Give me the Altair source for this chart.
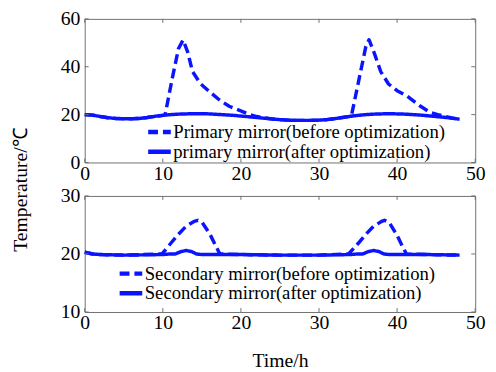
import altair as alt
import pandas as pd

# ---------------- data ----------------
# Primary mirror, after optimization (hourly)
p_after_t = list(range(0, 49))
p_after_v = [20.0, 19.8, 19.2, 18.7, 18.4, 18.3, 18.3, 18.4, 18.8, 19.3,
             19.7, 20.0, 20.2, 20.3, 20.4, 20.4, 20.3, 20.1, 19.9, 19.7,
             19.4, 19.1, 18.8, 18.5, 18.2, 17.9, 17.7, 17.6, 17.6, 17.6,
             17.7, 17.9, 18.3, 18.8, 19.3, 19.7, 20.0, 20.2, 20.3, 20.4,
             20.3, 20.2, 20.0, 19.8, 19.5, 19.2, 18.9, 18.5, 18.1]

# Primary mirror, before optimization
p_before_t = [10.3, 11.2, 12.0, 12.6, 13.2, 13.8, 14.8, 16.0, 17.3, 18.5, 19.9, 21.0, 22.0, 23.0, 24.0,
              34.2, 35.2, 36.0, 36.4, 37.1, 37.9, 38.9, 40.0, 41.2, 42.9, 44.2, 45.2, 46.2, 47.0, 48.0]
p_before_v = [20.0, 35.0, 47.5, 51.2, 46.0, 38.0, 33.0, 29.5, 26.0, 23.5, 21.7, 20.2, 19.2, 18.6, 18.2,
              20.3, 36.0, 48.5, 51.3, 45.5, 38.0, 32.8, 30.0, 27.9, 23.7, 21.0, 20.0, 19.2, 18.6, 18.1]

# Secondary mirror, after optimization
s_after_t = [0, 1, 2, 5, 10, 11, 11.6, 12.3, 13.0, 13.7, 14.3, 15, 20, 25, 30, 34,
             35, 35.6, 36.3, 37.0, 37.7, 38.3, 39, 44, 48]
s_after_v = [20.3, 20.0, 19.9, 19.8, 19.9, 20.0, 20.0, 20.4, 20.6, 20.4, 20.0, 19.9, 19.9, 19.8, 19.8, 19.9,
             20.0, 20.0, 20.4, 20.6, 20.4, 20.0, 19.9, 19.9, 19.8]

# Secondary mirror, before optimization
s_before_t = [0, 1, 2, 5, 9.9, 11, 12, 13, 14, 14.5, 15, 16, 17, 17.3, 20, 25, 30,
              33.8, 35, 36, 37, 38, 38.4, 39, 40, 40.8, 41.2, 44, 48]
s_before_v = [20.3, 20.0, 19.9, 19.8, 20.0, 21.8, 23.4, 24.8, 25.6, 25.8, 25.5, 23.5, 20.8, 20.0, 19.9, 19.8, 19.8,
              20.0, 21.8, 23.4, 24.8, 25.6, 25.8, 25.4, 23.2, 21.0, 20.0, 19.9, 19.8]

p_names = ["Primary mirror(before optimization)", "primary mirror(after optimization)"]
s_names = ["Secondary mirror(before optimization)", "Secondary mirror(after optimization)"]

x_ticks = [0, 10, 20, 30, 40, 50]
p_y_ticks = [0, 20, 40, 60]
s_y_ticks = [10, 20, 30]

# ---------------- tables ----------------
def merge_before(after_t, after_v, bt, bv, windows):
    rows = []
    for t, v in zip(after_t, after_v):
        if not any(a <= t <= b for a, b in windows):
            rows.append((t, v))
    rows += list(zip(bt, bv))
    rows.sort()
    return rows

p_before_rows = merge_before(p_after_t, p_after_v, p_before_t, p_before_v, [(10.3, 24.0), (34.2, 48.0)])
p_df = pd.DataFrame(
    [{"t": t, "v": v, "series": p_names[0], "o": i} for i, (t, v) in enumerate(p_before_rows)]
    + [{"t": t, "v": v, "series": p_names[1], "o": i} for i, (t, v) in enumerate(zip(p_after_t, p_after_v))]
)
s_df = pd.DataFrame(
    [{"t": t, "v": v, "series": s_names[0], "o": i} for i, (t, v) in enumerate(zip(s_before_t, s_before_v))]
    + [{"t": t, "v": v, "series": s_names[1], "o": i} for i, (t, v) in enumerate(zip(s_after_t, s_after_v))]
)

FONT = "Liberation Serif"
BLUE = "#0a14ff"
FRAME = "#707070"
W = 397


def panel(df, names, ydom, yticks, H, legx, legy, xtitle, ytitle):
    xs = alt.Scale(domain=[0, 50], nice=False)
    ys = alt.Scale(domain=ydom, nice=False)
    leg = alt.Legend(orient="none", legendX=legx, legendY=legy, title=None,
                     symbolType="stroke", symbolSize=529, symbolStrokeWidth=4.5,
                     labelFont=FONT, labelFontSize=19, labelColor="black",
                     labelLimit=500, rowPadding=0, clipHeight=20, labelOffset=0, padding=0)
    common = dict(grid=False, ticks=False, domain=False,
                  labelFont=FONT, labelFontSize=20, labelColor="black",
                  titleFont=FONT, titleFontSize=20, titleFontWeight="normal", titleColor="black")
    xaxis = alt.Axis(values=x_ticks, labelPadding=1, title=xtitle if xtitle else None,
                     titlePadding=18, labelFlush=False, **common)
    if ytitle:
        yaxis = alt.Axis(values=yticks, labelPadding=5,
                         title=ytitle, titleAngle=270,
                         titleX=-65, titleY=173, titleAlign="center", titleBaseline="middle", **common)
    else:
        yaxis = alt.Axis(values=yticks, labelPadding=5, title=None, **common)

    lines = alt.Chart(df).mark_line(strokeWidth=3.5, strokeCap="butt", strokeJoin="round").encode(
        x=alt.X("t:Q", scale=xs, axis=xaxis),
        y=alt.Y("v:Q", scale=ys, axis=yaxis),
        color=alt.Color("series:N", scale=alt.Scale(domain=names, range=[BLUE, BLUE]), legend=leg),
        strokeDash=alt.StrokeDash("series:N", scale=alt.Scale(domain=names, range=[[10, 5], [1, 0]]), legend=leg),
        order="o:Q",
    )
    xt = pd.DataFrame({"tx": x_ticks})
    yt = pd.DataFrame({"ty": yticks})
    tb = alt.Chart(xt).mark_rule(color=FRAME, strokeWidth=1).encode(
        x=alt.X("tx:Q", scale=xs, axis=xaxis), y=alt.value(H), y2=alt.value(H - 4))
    tt = alt.Chart(xt).mark_rule(color=FRAME, strokeWidth=1).encode(
        x=alt.X("tx:Q", scale=xs, axis=xaxis), y=alt.value(0), y2=alt.value(4))
    tl = alt.Chart(yt).mark_rule(color=FRAME, strokeWidth=1).encode(
        y=alt.Y("ty:Q", scale=ys, axis=yaxis), x=alt.value(0), x2=alt.value(4))
    tr = alt.Chart(yt).mark_rule(color=FRAME, strokeWidth=1).encode(
        y=alt.Y("ty:Q", scale=ys, axis=yaxis), x=alt.value(W), x2=alt.value(W - 4))
    return alt.layer(lines, tb, tt, tl, tr).properties(width=W, height=H)


top = panel(p_df, p_names, [0, 60], p_y_ticks, 146, 62, 105, None, "Temperature/℃")
bottom = panel(s_df, s_names, [10, 30], s_y_ticks, 118, 33, 69, "Time/h", None)

chart = alt.vconcat(top, bottom, spacing=34, bounds="flush").resolve_scale(
    color="independent", strokeDash="independent", x="independent", y="independent"
).resolve_legend(color="independent", strokeDash="independent").properties(
    padding={"left": 2, "top": -3, "right": 2, "bottom": 2}, background="white"
).configure_axis(
    labelFont=FONT, labelFontSize=20, labelColor="black",
    titleFont=FONT, titleFontSize=20, titleFontWeight="normal", titleColor="black"
).configure_view(stroke=FRAME, strokeWidth=1)

chart.save("out.html", embed_options={"renderer": "svg", "actions": False})
